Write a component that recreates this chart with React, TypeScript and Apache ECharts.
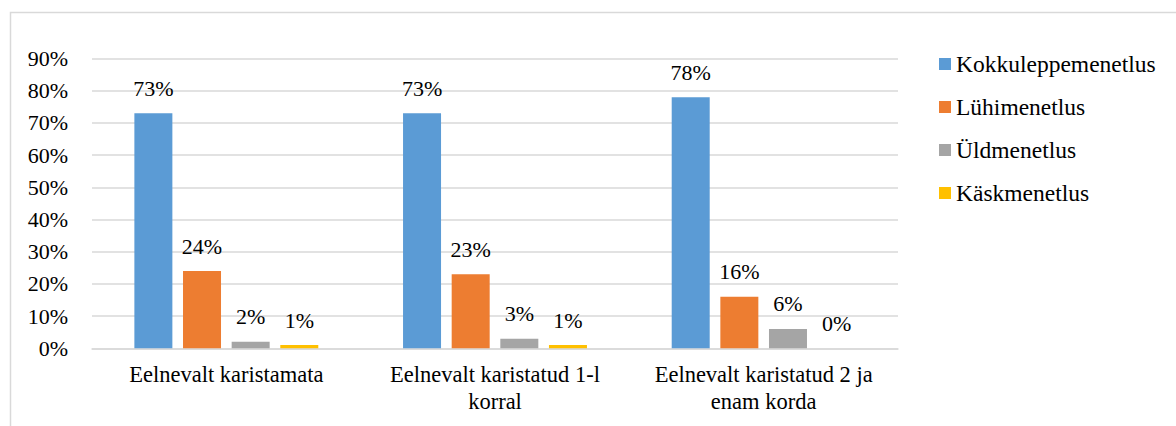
import React, { useEffect, useRef } from "react";
import * as echarts from "echarts";

const categories = [
  "Eelnevalt karistamata",
  "Eelnevalt karistatud 1-l\nkorral",
  "Eelnevalt karistatud 2 ja\nenam korda",
];
const seriesNames = ["Kokkuleppemenetlus", "Lühimenetlus", "Üldmenetlus", "Käskmenetlus"];
const kokkulepe = [73, 73, 78];
const luhimenetlus = [24, 23, 16];
const uldmenetlus = [2, 3, 6];
const kaskmenetlus = [1, 1, 0];
const colors = ["#5B9BD5", "#ED7D31", "#A5A5A5", "#FFC000"];

const FONT = "Liberation Serif";

export default function App() {
  const ref = useRef<HTMLDivElement>(null);
  useEffect(() => {
    if (!ref.current) return;
    const chart = echarts.init(ref.current, null, { renderer: "svg" });
    const values = [kokkulepe, luhimenetlus, uldmenetlus, kaskmenetlus];
    chart.setOption({
      animation: false,
      textStyle: { fontFamily: FONT },
      graphic: [
        {
          type: "rect",
          shape: { x: 10.5, y: 12.5, width: 1300, height: 600 },
          style: { fill: "none", stroke: "#d9d9d9", lineWidth: 1.5 },
          silent: true,
        },
      ],
      grid: { left: 92, right: 278, top: 58.5, bottom: 77.7, containLabel: false },
      legend: {
        orient: "vertical",
        left: 939,
        top: 52,
        padding: 0,
        itemWidth: 12,
        itemHeight: 12,
        itemGap: 19,
        icon: "rect",
        textStyle: { fontFamily: FONT, fontSize: 23.5, color: "#000", lineHeight: 22 },
        data: seriesNames,
      },
      xAxis: {
        type: "category",
        data: categories,
        axisLine: { show: true, lineStyle: { color: "#d9d9d9", width: 1.5 } },
        axisTick: { show: false },
        axisLabel: {
          fontFamily: FONT,
          fontSize: 22.5,
          color: "#000",
          lineHeight: 27,
          margin: 13,
          interval: 0,
        },
      },
      yAxis: {
        type: "value",
        min: 0,
        max: 90,
        interval: 10,
        axisLine: { show: false },
        axisTick: { show: false },
        splitLine: { lineStyle: { color: "#d9d9d9", width: 1.5 } },
        axisLabel: {
          formatter: (v: number) => `${v}%`,
          fontFamily: FONT,
          fontSize: 22,
          color: "#000",
          margin: 24,
        },
      },
      series: seriesNames.map((name, i) => ({
        name,
        type: "bar",
        data: values[i],
        barWidth: 38,
        barGap: "28%",
        itemStyle: { color: colors[i] },
        label: {
          show: true,
          position: "top",
          distance: 14,
          formatter: (p: any) => `${p.value}%`,
          fontFamily: FONT,
          fontSize: 22,
          color: "#000",
        },
      })),
    });
    return () => chart.dispose();
  }, []);
  return (
    <div
      ref={ref}
      style={{ position: "fixed", left: 0, top: 0, width: 1176, height: 426, background: "#fff" }}
    />
  );
}
